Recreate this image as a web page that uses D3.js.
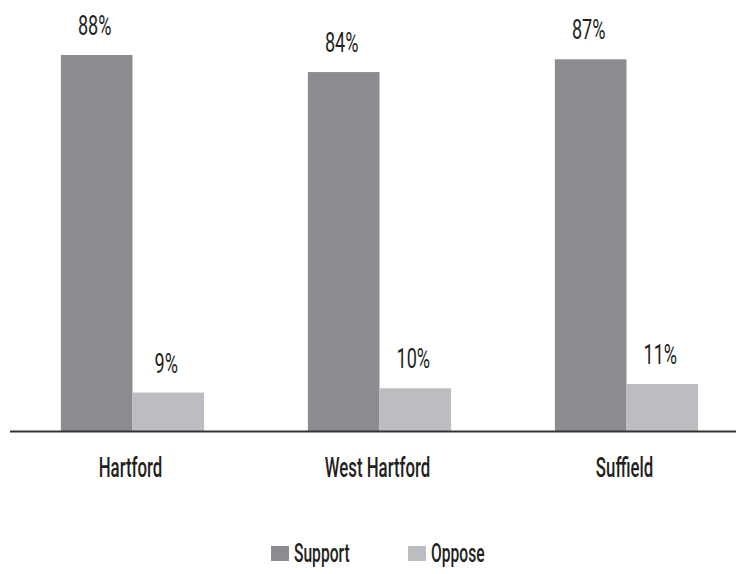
<!DOCTYPE html>
<html>
<head>
<meta charset="utf-8">
<script src="https://cdn.jsdelivr.net/npm/d3@7"></script>
<style>
  body { margin: 0; background: #fff; }
  text { font-family: Roboto, "DejaVu Sans", sans-serif; font-weight: 500; fill: #231f20; }
</style>
</head>
<body>
<div id="chart"></div>
<script>
// data
var towns = ["Hartford", "West Hartford", "Suffield"];
var seriesNames = ["Support", "Oppose"];
var support = [88, 84, 87];
var oppose = [9, 10, 11];
var colors = {Support: "#8b8c90", Oppose: "#bcbdc1"};

var W = 736, H = 574;
var baseY = 431;
var squeeze = 0.6; // the original font is a very narrow one

var svg = d3.select("#chart")
  .append("svg")
    .attr("width", W)
    .attr("height", H);

var data = towns.map(function(t, i) {
  return {town: t, values: [
    {key: "Support", value: support[i]},
    {key: "Oppose", value: oppose[i]}
  ]};
});

// scales
var x0 = d3.scaleBand()
  .domain(towns)
  .range([9, 750])
  .paddingInner(0.42)
  .paddingOuter(0.21);

var x1 = d3.scaleBand()
  .domain(seriesNames)
  .range([0, x0.bandwidth()]);

var y = d3.scaleLinear()
  .domain([0, 88])
  .range([baseY, 55]);

// bars
var groups = svg.selectAll("g.town")
  .data(data)
  .enter()
  .append("g")
    .attr("class", "town")
    .attr("transform", function(d) { return "translate(" + x0(d.town) + ",0)"; });

groups.selectAll("rect")
  .data(function(d) { return d.values; })
  .enter()
  .append("rect")
    .attr("x", function(d) { return x1(d.key); })
    .attr("y", function(d) { return y(d.value); })
    .attr("width", x1.bandwidth())
    .attr("height", function(d) { return baseY - y(d.value); })
    .attr("fill", function(d) { return colors[d.key]; });

groups.selectAll("text.val")
  .data(function(d) { return d.values; })
  .enter()
  .append("text")
    .attr("class", "val")
    .attr("transform", function(d) {
      return "translate(" + (x1(d.key) + x1.bandwidth() / 2 - 2) + "," + (y(d.value) - 20) + ") scale(0.67,1)";
    })
    .attr("text-anchor", "middle")
    .style("font-size", "27px")
    .style("font-weight", 400)
    .text(function(d) { return d.value + "%"; });

// baseline axis
svg.append("line")
  .attr("x1", 10).attr("x2", W)
  .attr("y1", baseY + 0.5).attr("y2", baseY + 0.5)
  .attr("stroke", "#333")
  .attr("stroke-width", 2);

// category labels
svg.selectAll("text.cat")
  .data(towns)
  .enter()
  .append("text")
    .attr("class", "cat")
    .attr("transform", function(d) {
      return "translate(" + (x0(d) + x0.bandwidth() / 2 - 2) + ",477) scale(" + squeeze + ",1)";
    })
    .attr("text-anchor", "middle")
    .style("font-size", "28px")
    .text(function(d) { return d; });

// legend
var legendX = [271, 408];
var legend = svg.selectAll("g.legend")
  .data(seriesNames)
  .enter()
  .append("g")
    .attr("class", "legend")
    .attr("transform", function(d, i) { return "translate(" + legendX[i] + ",546)"; });

legend.append("rect")
  .attr("width", 18)
  .attr("height", 15)
  .attr("fill", function(d) { return colors[d]; });

legend.append("text")
  .attr("transform", "translate(23,16) scale(" + squeeze + ",1)")
  .style("font-size", "26px")
  .text(function(d) { return d; });
</script>
</body>
</html>
